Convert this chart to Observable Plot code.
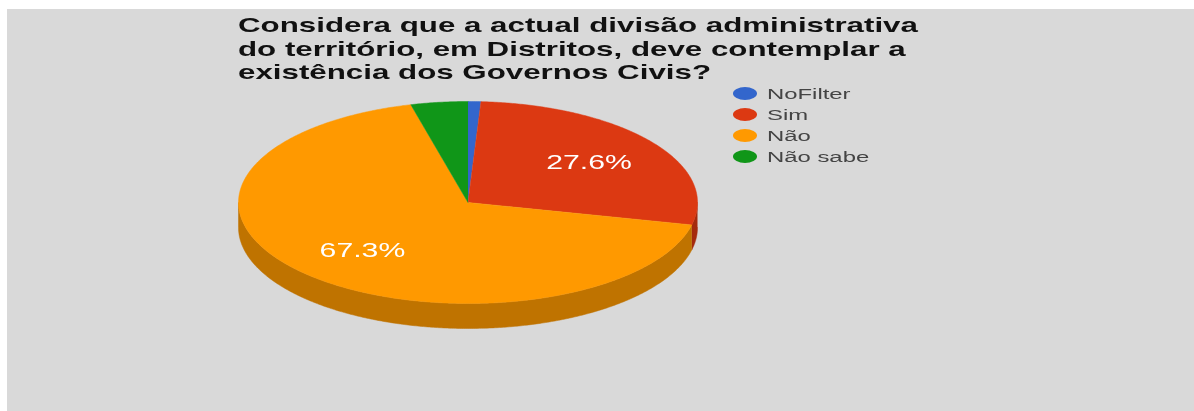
<!DOCTYPE html>
<html lang="pt">
<head>
<meta charset="utf-8">
<script src="https://cdn.jsdelivr.net/npm/d3@7"></script>
<script src="https://cdn.jsdelivr.net/npm/@observablehq/plot@0.6"></script>
<style>
  html, body { margin: 0; padding: 0; width: 1194px; height: 411px; overflow: hidden; background: #fff; }
  #page { position: absolute; left: 7px; top: 9px; width: 1187px; height: 402px; background: #d9d9d9; overflow: hidden;
          font-family: "Liberation Sans", Arial, sans-serif; }
  #title { position: absolute; left: 231px; top: 4px; margin: 0; font-size: 21px; line-height: 23.5px; font-weight: bold;
           color: #111; white-space: nowrap; transform: scaleX(1.49); transform-origin: left top; filter: blur(.5px); }
  #legend { position: absolute; left: 0; top: 0; margin: 0; padding: 0; list-style: none; filter: blur(.5px); }
  #legend li { position: absolute; left: 726px; height: 21px; white-space: nowrap; }
  #legend i { position: absolute; left: 0; top: 4px; width: 24px; height: 13px; border-radius: 50%; }
  #legend span { position: absolute; left: 34px; top: 1px; font-size: 15.5px; line-height: 19px; color: #444;
                 transform: scaleX(1.54); transform-origin: left top; }
  #chart { position: absolute; left: 0; top: 76px; filter: blur(.5px); }
  #chart svg { background: transparent; display: block; }
</style>
</head>
<body>
<div id="page">
  <h1 id="title"></h1>
  <div id="chart"></div>
  <ul id="legend"></ul>
</div>
<script>
const titleLines = [
  "Considera que a actual divisão administrativa",
  "do território, em Distritos, deve contemplar a",
  "existência dos Governos Civis?"
];
const categories = ["NoFilter", "Sim", "Não", "Não sabe"];
const shares = [0.9, 27.6, 67.3, 4.0];
const labels = ["", "27.6%", "67.3%", ""];
const colors = ["#3366cc", "#dc3912", "#ff9900", "#109618"];
const sideColors = ["#264d99", "#a52b0e", "#bf7300", "#0c7112"];

const depth = 0.2475, labelRadius = 0.66;

document.getElementById("title").innerHTML = titleLines.join("<br>");
const legend = d3.select("#legend");
categories.forEach((c, i) => {
  const li = legend.append("li").style("top", (74 + i * 21) + "px");
  li.append("i").style("background", colors[i]);
  li.append("span").text(c);
});

const total = d3.sum(shares);
let cum = 0;
const slices = categories.map((c, i) => {
  const a0 = cum / total * 2 * Math.PI;
  cum += shares[i];
  return { c, i, a0, a1: cum / total * 2 * Math.PI };
});
const arcAngles = (a0, a1) => {
  const n = Math.max(2, Math.ceil((a1 - a0) / (Math.PI / 360)));
  return d3.range(n + 1).map(k => a0 + (a1 - a0) * k / n);
};
const topFace = slices.flatMap(s => [
  { x: 0, y: 0, i: s.i },
  ...arcAngles(s.a0, s.a1).map(a => ({ x: Math.sin(a), y: Math.cos(a), i: s.i }))
]);
const sideWall = slices.flatMap(s => {
  const a0 = Math.max(s.a0, Math.PI / 2), a1 = Math.min(s.a1, 3 * Math.PI / 2);
  if (a1 <= a0) return [];
  const arc = arcAngles(a0, a1);
  return [
    ...arc.map(a => ({ x: Math.sin(a), y: Math.cos(a), i: s.i })),
    ...arc.slice().reverse().map(a => ({ x: Math.sin(a), y: Math.cos(a) - depth, i: s.i }))
  ];
});
const labelData = slices.filter(s => labels[s.i]).map(s => {
  const m = (s.a0 + s.a1) / 2;
  return { x: labelRadius * Math.sin(m), y: labelRadius * Math.cos(m), text: labels[s.i] };
});

const plot = Plot.plot({
  width: 1187,
  height: 326,
  margin: 0,
  style: { background: "transparent" },
  x: { domain: [-1, 1], range: [231, 690], axis: null },
  y: { domain: [1, -1], range: [16, 218], axis: null },
  color: { type: "identity" },
  marks: [
    Plot.line(sideWall, { x: "x", y: "y", z: "i", fill: d => sideColors[d.i], stroke: d => sideColors[d.i], strokeWidth: 0.5 }),
    Plot.line(topFace, { x: "x", y: "y", z: "i", fill: d => colors[d.i], stroke: d => colors[d.i], strokeWidth: 0.5 }),
    Plot.text(labelData, { x: "x", y: "y", text: "text", fill: "#fff", fontSize: 19.5, className: "pct",
                           fontFamily: "Liberation Sans, Arial, sans-serif" })
  ]
});
document.getElementById("chart").append(plot);
d3.select(plot).selectAll(".pct text").attr("transform", function () {
  return (this.getAttribute("transform") || "") + " scale(1.55,1)";
});
</script>
</body>
</html>
